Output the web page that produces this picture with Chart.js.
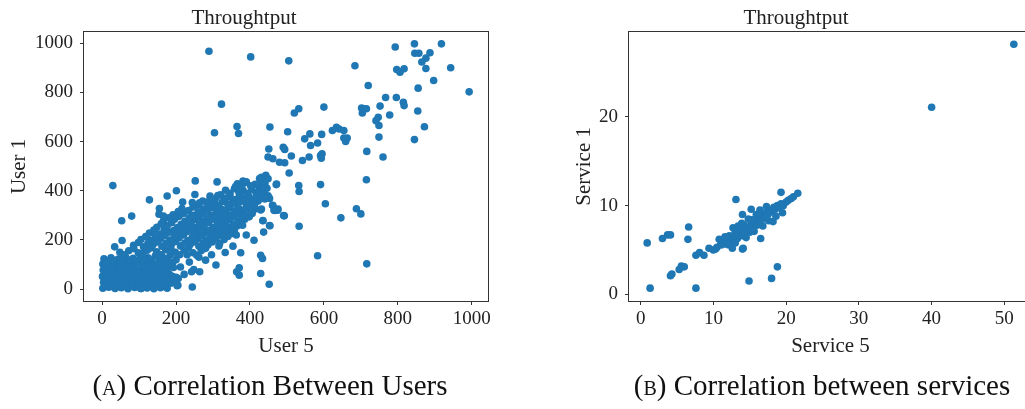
<!DOCTYPE html>
<html>
<head>
<meta charset="utf-8">
<script src="https://cdn.jsdelivr.net/npm/chart.js@4.4.1/dist/chart.umd.min.js"></script>
<style>
  html, body { margin: 0; padding: 0; background: #fff; }
  body { width: 1025px; height: 409px; overflow: hidden; position: relative; font-family: 'Liberation Serif', serif; }
  canvas { position: absolute; top: 0; }
  #users { left: 0; }
  #services { left: 560px; }
  .caption { position: absolute; top: 369px; font-size: 29px; line-height: 33px; color: #111; white-space: nowrap; transform: translateX(-50%); }
  .sc { font-variant: small-caps; }
</style>
</head>
<body>
<canvas id="users" width="500" height="370"></canvas>
<canvas id="services" width="480" height="370"></canvas>
<div class="caption" style="left:270px">(<span class="sc">a</span>) Correlation Between Users</div>
<div class="caption" style="left:822px">(<span class="sc">b</span>) Correlation between services</div>
<script>
// 数据：用户相关性（User 5 vs User 1）
const usersCluster = [
  [2,4],[18,8],[35,3],[52,6],[70,2],[88,7],[105,3],[122,5],[140,2],[158,6],[176,4],
  [4,28],[21,32],[39,26],[57,30],[74,27],[92,33],[110,28],[128,31],[146,26],[165,30],[186,24],
  [1,52],[19,56],[37,50],[55,55],[73,58],[91,51],[109,54],[127,57],[145,50],[163,55],[182,60],[200,48],
  [3,78],[22,82],[41,76],[60,80],[79,84],[98,77],[117,81],[136,85],[155,78],[174,83],[193,88],
  [2,102],[20,106],[39,100],[58,108],[77,103],[96,110],[115,104],[134,112],[153,106],[172,114],[191,108],
  [5,124],[24,128],[44,122],[64,130],[84,126],[104,134],[124,128],[144,136],[164,130],[184,138]
];
const usersClusterFill = [
  [10,16],[28,18],[46,15],[64,18],[82,14],[100,19],[118,15],[136,17],[154,14],[170,18],
  [12,42],[30,44],[48,40],[66,43],[84,45],[102,41],[120,44],[138,42],[156,40],[174,45],[194,38],
  [10,66],[28,68],[46,64],[64,69],[82,66],[100,70],[118,65],[136,70],[156,66],[176,72],
  [12,92],[30,94],[50,89],[68,95],[88,90],[108,96],[126,92],[146,98],[166,94],[184,100],
  [12,114],[32,117],[52,112],[72,118],[92,115],[112,120],[132,118],[154,122],[176,124]
];
const usersBand = [
  [48,150],[72,156],[98,148],[122,158],[148,152],[172,160],[198,150],[222,158],[246,148],[268,156],
  [85,178],[112,172],[138,182],[162,175],[188,184],[212,176],[238,182],[262,174],[286,180],
  [105,202],[132,198],[158,206],[184,200],[208,208],[232,198],[258,204],[282,200],[306,208],[330,202],
  [128,228],[156,224],[182,232],[206,226],[230,234],[256,224],[280,230],[304,226],[328,232],[350,226],
  [148,252],[176,258],[204,250],[228,256],[252,250],[276,258],[300,252],[324,256],[348,250],[366,258],
  [166,278],[196,284],[224,276],[250,282],[274,276],[298,284],[322,278],[344,282],[368,276],[386,284],
  [192,302],[220,308],[246,300],[272,306],[296,300],[320,308],[342,302],[366,306],[390,300],[406,308],
  [216,328],[246,334],[274,326],[298,332],[322,326],[346,332],[372,326],[396,332],[414,326],
  [244,352],[272,358],[300,350],[326,356],[352,350],[378,358],[402,352],[422,358],
  [292,378],[320,384],[346,376],[372,382],[396,378],[418,384],[436,376],
  [334,402],[358,408],[382,400],[404,406],[428,402],[446,410],
  [366,428],[390,434],[414,426],[440,432]
];
const usersBandFill = [
  [60,140],[86,165],[110,146],[134,168],[160,140],[186,166],[210,140],[234,168],[256,138],[280,166],
  [98,190],[124,186],[150,192],[174,188],[198,194],[224,188],[250,192],[274,188],[298,192],[318,186],
  [118,214],[144,212],[170,218],[196,214],[220,220],[244,212],[270,216],[294,214],[318,220],[340,214],
  [140,240],[168,242],[194,238],[218,244],[242,240],[266,242],[290,238],[314,244],[338,240],[358,242],
  [160,266],[188,270],[214,264],[240,268],[264,266],[288,270],[312,264],[334,268],[356,264],[376,270],
  [180,290],[208,296],[236,290],[262,294],[286,290],[310,296],[332,290],[356,294],[378,290],[398,294],
  [206,316],[234,320],[260,314],[286,320],[310,316],[334,320],[358,316],[384,320],[404,316],
  [258,342],[286,344],[314,340],[340,344],[366,340],[390,344],[412,340],
  [306,366],[334,370],[360,364],[386,370],[408,366],[428,370],
  [346,390],[370,394],[394,388],[416,394],[438,390],
  [378,416],[402,420],[426,414]
];
const usersLow = [
  [104,4],[136,16],[174,37],[205,16],[152,40],[190,52],[222,60],[212,90],[236,110],[248,80],
  [262,130],[280,118],[296,140],[230,140],[200,120],[178,98],[160,70]
];
const usersOutliers = [
  [289,967],[402,944],[505,928],[845,997],[918,997],[793,984],[846,959],[857,959],[887,961],
  [876,939],[865,923],[876,897],[797,893],[806,882],[817,896],[943,900],[684,908],[897,848],
  [720,828],[993,802],[855,817],[767,779],[796,779],[815,760],[817,746],[600,740],[702,736],
  [708,733],[704,716],[715,733],[752,744],[778,708],[747,699],[741,685],[749,665],[520,716],
  [532,733],[323,752],[854,724],[634,658],[623,645],[641,651],[654,645],[659,600],[663,614],
  [654,614],[454,659],[365,661],[369,633],[304,636],[502,640],[749,618],[872,660],[845,608],
  [548,611],[562,631],[594,629],[583,594],[564,584],[591,543],[595,550],[593,532],[451,570],
  [490,577],[494,568],[449,537],[462,530],[480,516],[494,514],[512,541],[542,523],[560,537],
  [506,472],[716,560],[760,537],[715,445],[591,425],[604,347],[532,421],[533,397],[688,327],
  [700,306],[646,290],[533,256],[583,136],[716,103],[452,20],[429,64],[29,421],[252,440],
  [311,436],[361,417],[381,439],[390,436],[426,450],[443,463],[426,423],[472,427],[431,455],
  [440,428],[449,449],[435,394],[471,425],[449,380],[440,367],[462,340],[467,320],[476,326],
  [491,299],[431,326],[435,279],[453,259],[128,363],[176,379],[201,400],[218,354],[251,385],
  [313,381],[80,297],[53,278],[155,328],[154,305],[166,297],[264,351],[286,355],[313,274],
  [333,252],[311,214],[316,176],[333,149],[308,98],[354,175],[375,148],[371,87],[371,57],
  [364,71],[411,199],[429,322],[435,278],[437,232],[454,258],[429,138],[434,125],[383,301],
  [380,260],[390,220],[363,220],[461,341],[475,321],[493,298],[465,321],[427,373],[453,369],
  [242,71],[264,71],[244,9],[203,14],[206,43],[176,37],[126,23],[106,3],[34,172],[54,198]
];
const userTicks = [0, 200, 400, 600, 800, 1000];

// 数据：服务相关性（Service 5 vs Service 1）
const servicesBand = [
  [9.4,5.2],[10.0,5.0],[10.5,5.3],[11.0,5.6],[11.5,5.8],[12.0,6.2],[12.2,6.6],[12.5,6.0],[12.8,6.5],
  [13.0,7.0],[13.3,6.3],[13.5,6.8],[13.8,7.4],[14.0,6.6],[14.2,7.8],[14.5,7.2],[14.7,7.6],[15.0,7.0],
  [15.2,7.9],[15.5,7.5],[15.7,8.2],[16.0,7.8],[16.2,8.6],[16.5,8.3],[16.8,8.9],[17.0,8.6],[17.2,9.2],
  [17.5,9.0],[17.8,9.5],[18.0,9.3],[18.3,9.8],[18.5,9.6],[18.8,10.0],[19.0,9.8],[19.3,10.2],[19.6,10.0],
  [20.0,10.4],[20.3,10.6],[20.7,10.8],[21.0,11.0],[21.6,11.4],[12.7,7.5],[13.9,8.0],[14.8,8.5],
  [15.9,9.0],[16.4,9.5],[17.3,9.9],[12.0,5.6],[13.0,5.8],[14.5,6.4],[15.6,7.1],[16.8,7.7],[17.6,8.3],
  [18.6,8.8],[11.6,6.5],[10.8,6.2]
];
const servicesOutliers = [
  [51.3,28.2],[40.0,21.1],[0.9,5.8],[1.3,0.7],[3.0,6.3],[3.7,6.7],[4.1,6.7],[6.6,7.6],[6.5,6.2],
  [7.6,0.7],[4.1,2.1],[4.3,2.3],[5.3,2.8],[5.6,3.2],[6.0,3.1],[7.6,4.4],[8.1,4.7],[8.7,4.4],
  [10.3,5.1],[11.2,5.6],[12.6,5.2],[14.0,5.1],[14.1,5.2],[13.1,10.7],[15.2,9.6],[14.0,9.0],
  [16.5,6.3],[14.9,1.5],[18.0,1.8],[18.8,3.1],[19.3,11.5],[19.5,9.2],[18.2,8.2],[16.5,8.1],
  [13.4,7.7],[15.3,8.4]
];
const serviceXTicks = [0, 10, 20, 30, 40, 50];
const serviceYTicks = [0, 10, 20];

const pointColor = '#1f77b4';
const inkColor = '#222';
Chart.defaults.font.family = "'Liberation Serif', serif";
Chart.defaults.color = inkColor;

// 坐标框（四边）
const frame = {
  id: 'frame',
  afterDraw(chart) {
    const a = chart.chartArea, ctx = chart.ctx;
    ctx.save();
    ctx.strokeStyle = '#333';
    ctx.lineWidth = 1;
    ctx.strokeRect(Math.round(a.left) - 0.5, Math.round(a.top) - 0.5,
      Math.round(a.right - a.left) + 1, Math.round(a.bottom - a.top) + 1);
    ctx.restore();
  }
};

function toPoints(...lists) {
  return lists.flat().map(p => ({ x: p[0], y: p[1] }));
}

function axis(min, max, ticks, title, size, titlePad, isX) {
  return {
    type: 'linear',
    min: min,
    max: max,
    afterBuildTicks: s => { s.ticks = ticks.map(v => ({ value: v })); },
    afterFit: s => { if (isX) s.height = size; else s.width = size; },
    grid: { drawOnChartArea: false, tickLength: 4, color: '#333' },
    border: { display: false },
    ticks: { font: { size: 19 }, color: inkColor, padding: isX ? 3 : 7, callback: v => String(v), maxRotation: 0 },
    title: { display: true, text: title, font: { size: 21 }, color: inkColor, padding: titlePad }
  };
}

function makeChart(id, points, xScale, yScale, padRight) {
  return new Chart(document.getElementById(id), {
    type: 'scatter',
    data: { datasets: [{ data: points, backgroundColor: pointColor, borderWidth: 0, pointRadius: 3.8 }] },
    options: {
      responsive: false,
      animation: false,
      layout: { padding: { left: 0, right: padRight, top: 0, bottom: 0 } },
      plugins: {
        legend: { display: false },
        tooltip: { enabled: false },
        title: { display: true, text: 'Throughtput', font: { size: 21, weight: 'normal' }, color: inkColor, padding: { top: 6, bottom: 0.6 } }
      },
      scales: { x: xScale, y: yScale }
    },
    plugins: [frame]
  });
}

makeChart('users', toPoints(usersCluster, usersClusterFill, usersBand, usersBandFill, usersLow, usersOutliers),
  axis(-49, 1044, userTicks, 'User 5', 69, { top: 0, bottom: 11 }, true),
  axis(-48, 1046, userTicks, 'User 1', 84, { top: 7, bottom: 0 }, false), 12);

makeChart('services', toPoints(servicesBand, servicesOutliers),
  axis(-1.6, 53.8, serviceXTicks, 'Service 5', 69, { top: 0, bottom: 11 }, true),
  axis(-0.75, 29.6, serviceYTicks, 'Service 1', 69, { top: 12, bottom: 0 }, false), 8);
</script>
</body>
</html>
